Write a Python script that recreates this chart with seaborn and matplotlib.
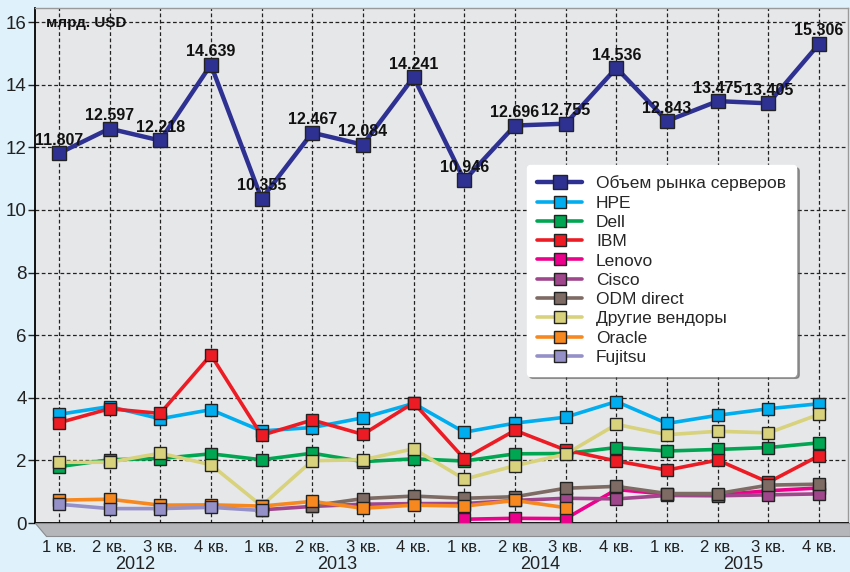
import numpy as np
import pandas as pd
import matplotlib
matplotlib.use("Agg")
import matplotlib.pyplot as plt
from matplotlib.patches import Polygon
import seaborn as sns

nan = np.nan

# Кварталы 2012-2015
quarters = ['1 кв.', '2 кв.', '3 кв.', '4 кв.'] * 4
years = ['2012', '2013', '2014', '2015']

# Объем рынка серверов, млрд. USD
total = [11.807, 12.597, 12.218, 14.639, 10.355, 12.467, 12.084, 14.241,
         10.946, 12.696, 12.755, 14.536, 12.843, 13.475, 13.405, 15.306]
hpe = [3.47, 3.72, 3.33, 3.62, 2.94, 3.05, 3.36, 3.82,
       2.90, 3.19, 3.38, 3.88, 3.18, 3.44, 3.65, 3.81]
dell = [1.80, 2.02, 2.06, 2.21, 2.02, 2.23, 1.96, 2.05,
        1.98, 2.21, 2.22, 2.41, 2.30, 2.35, 2.41, 2.56]
ibm = [3.20, 3.65, 3.50, 5.37, 2.80, 3.29, 2.83, 3.84,
       2.05, 2.96, 2.33, 1.98, 1.69, 2.01, 1.30, 2.15]
lenovo = [nan, nan, nan, nan, nan, nan, nan, nan,
          0.12, 0.15, 0.14, 1.07, 0.92, 0.90, 1.03, 1.12]
cisco = [nan, nan, nan, nan, 0.42, 0.53, 0.60, 0.62,
         0.62, 0.72, 0.79, 0.77, 0.88, 0.87, 0.90, 0.93]
odm = [nan, nan, nan, nan, nan, 0.55, 0.78, 0.86,
       0.79, 0.84, 1.11, 1.17, 0.94, 0.94, 1.21, 1.24]
others = [1.94, 1.94, 2.23, 1.86, 0.55, 1.99, 2.02, 2.37,
          1.40, 1.83, 2.20, 3.15, 2.82, 2.93, 2.88, 3.47]
oracle = [0.73, 0.76, 0.57, 0.58, 0.54, 0.69, 0.47, 0.57,
          0.54, 0.72, 0.49, nan, nan, nan, nan, nan]
fujitsu = [0.60, 0.46, 0.46, 0.50, 0.40, nan, nan, nan,
           nan, nan, nan, nan, nan, nan, nan, nan]

names = ['Объем рынка серверов', 'HPE', 'Dell', 'IBM', 'Lenovo', 'Cisco',
         'ODM direct', 'Другие вендоры', 'Oracle', 'Fujitsu']
series = [total, hpe, dell, ibm, lenovo, cisco, odm, others, oracle, fujitsu]
colors = ['#2e3192', '#00aeef', '#00a651', '#ed1c24', '#ec008c', '#a0468c',
          '#7d6b64', '#d8d27c', '#f7881f', '#9590c8']

sns.set_style("white")
plt.rcParams['font.family'] = ['Liberation Sans', 'DejaVu Sans']

fig = plt.figure(figsize=(8.5, 5.72), dpi=100, facecolor='#dff1fb')
ax = fig.add_axes([35 / 850, 1 - 523 / 572, 813 / 850, 515 / 572])
ax.set_facecolor('#e6e7e9')

x = np.arange(16)
order = list(range(1, 10)) + [0]
for i in order:
    main = i == 0
    sns.lineplot(x=x, y=series[i], ax=ax, color=colors[i], label=names[i],
                 lw=3.2 if main else 2.6, marker='s',
                 markersize=9.5 if main else 8.5, markeredgecolor='#222222',
                 markeredgewidth=1.0, zorder=5 if main else 3)

# подписи значений для общего объема
for xi, v in zip(x, total):
    ax.text(xi, v + 0.17, f'{v:.3f}', ha='center', va='bottom',
            fontsize=11.5, fontweight='bold', color='#111111', zorder=6)

ax.set_xlim(-0.47, 15.57)
ax.set_ylim(0, 16.45)
ax.set_yticks(range(0, 17, 2))
ax.set_xticks(x)
ax.set_xticklabels(quarters)
ax.tick_params(axis='x', length=0, pad=12, labelsize=12, colors='#222222')
ax.tick_params(axis='y', length=5, width=1, pad=1, labelsize=13.5,
               colors='#222222', direction='out', left=True)
ax.grid(True, color='#222222', ls=(0, (3, 2)), lw=0.9)
ax.set_axisbelow(True)
for s in ['left', 'bottom']:
    ax.spines[s].set_color('black')
    ax.spines[s].set_linewidth(1.3)
for s in ['top', 'right']:
    ax.spines[s].set_color('#9a9a9a')
    ax.spines[s].set_linewidth(1.0)

for k, yr in enumerate(years):
    ax.text(4 * k + 1.5, -0.064, yr, transform=ax.get_xaxis_transform(),
            ha='center', va='top', fontsize=13, color='#222222')

ax.text(0.013, 0.985, 'млрд. USD', transform=ax.transAxes, ha='left',
        va='top', fontsize=11, fontweight='bold', color='#111111')

# "пол" под графиком
floor = Polygon([(35, 572 - 523), (850, 572 - 523), (850, 572 - 536),
                 (46, 572 - 536)], closed=True, transform=None,
                facecolor='#b4b6b9', edgecolor='#8a8c8f', lw=0.8, zorder=0)
fig.patches.append(floor)

handles, labels = ax.get_legend_handles_labels()
hmap = dict(zip(labels, handles))
leg = ax.legend([hmap[n] for n in names], names, loc='upper left',
                bbox_to_anchor=(0.594, 0.712), frameon=True,
                fancybox=True, framealpha=1, facecolor='white',
                edgecolor='white', handlelength=2.6, labelspacing=0.24,
                borderpad=0.6, handletextpad=0.8, shadow=True,
                prop={'size': 12.5})
leg.set_zorder(10)

fig.savefig('out.png', dpi=100, facecolor=fig.get_facecolor())
